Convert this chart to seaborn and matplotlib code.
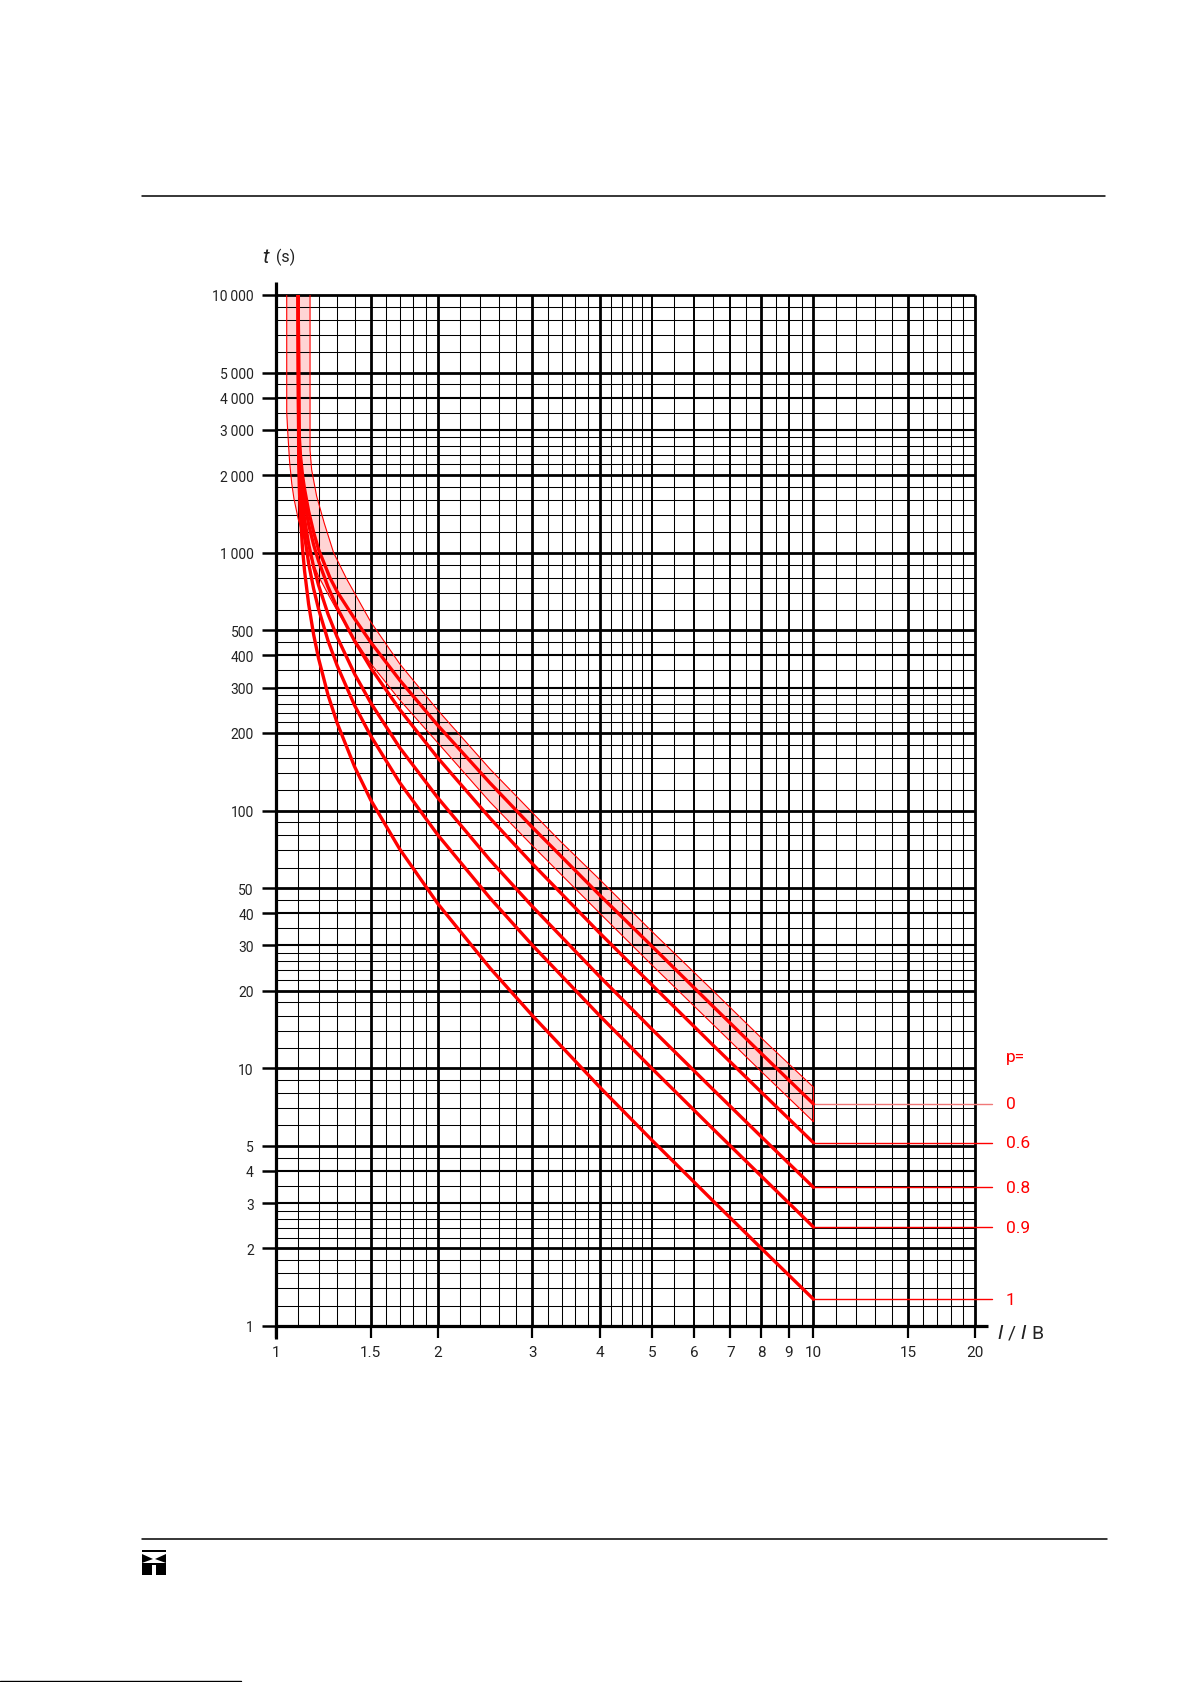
import matplotlib
matplotlib.use("Agg")
import matplotlib.pyplot as plt
import matplotlib.transforms as mtransforms
from matplotlib.patches import Rectangle, Polygon
from matplotlib.lines import Line2D
import pandas as pd
import seaborn as sns

# ---- curve data (I/IB, t in seconds) ----
X_P0 = [1.1, 1.102, 1.105, 1.11, 1.12, 1.13, 1.15, 1.175, 1.2, 1.26, 1.3, 1.4, 1.5, 1.7,
        2.0, 2.5, 3.0, 4.0, 5.0, 6.5, 8.0, 10.0]
T_P0 = [10000, 3372, 2824, 2412, 2005, 1769, 1450, 1200, 1030, 800, 705, 555, 450, 320,
        214, 128, 86, 47, 29.8, 17.4, 11.4, 7.27]

X_PRE = [1.1, 1.102, 1.105, 1.11, 1.12, 1.13, 1.15, 1.175, 1.2, 1.25, 1.3, 1.4, 1.5, 1.7,
         2.0, 2.5, 3.0, 4.0, 5.0, 6.5, 8.0, 10.0]
T_P06 = [10000, 3161, 2615, 2205, 1802, 1571, 1288, 1073, 928, 736, 611, 455, 358, 246,
         160, 93.5, 62.1, 33.5, 21.1, 12.3, 8.07, 5.14]
T_P08 = [10000, 2922, 2379, 1973, 1576, 1352, 1082, 881, 748, 577, 470, 339, 262, 175,
         112, 64.3, 42.4, 22.7, 14.2, 8.28, 5.42, 3.45]
T_P09 = [10000, 2712, 2171, 1770, 1382, 1166, 910, 724, 605, 455, 364, 256, 195, 128,
         80.4, 45.8, 30.0, 16.0, 10.0, 5.82, 3.81, 2.42]
T_P1 = [10000, 2331, 1799, 1411, 1047, 852, 632, 481, 389, 280, 218, 148, 110, 70.7,
        43.5, 24.5, 16.0, 8.46, 5.27, 3.06, 2.00, 1.27]

# tolerance band around p = 0
X_BAND_HI = [1.157, 1.157, 1.165, 1.19, 1.23, 1.28, 1.354, 1.5, 1.7, 2.0, 2.5, 3.0, 3.38,
             4.0, 5.0, 6.5, 8.0, 10.0]
T_BAND_HI = [10000, 2500, 2100, 1660, 1300, 1000, 790, 540, 370, 245, 145, 98, 76,
             54, 34, 20, 13.1, 8.44]
X_BAND_LO = [1.047, 1.047, 1.052, 1.06, 1.07, 1.08, 1.1, 1.12, 1.15, 1.2, 1.26, 1.3, 1.4,
             1.5, 1.7, 2.0, 2.5, 3.0, 4.0, 5.0, 6.5, 8.0, 10.0]
T_BAND_LO = [10000, 3500, 2900, 2250, 1850, 1620, 1350, 1180, 1000, 810, 670, 595, 462,
             372, 268, 183, 108, 73, 40, 25.2, 14.8, 9.7, 6.2]

P_LABELS = ["0", "0.6", "0.8", "0.9", "1"]

# ---- axis ticks / graph paper ----
X_TICKS = [1, 1.5, 2, 3, 4, 5, 6, 7, 8, 9, 10, 15, 20]
X_TICK_LABELS = ["1", "1.5", "2", "3", "4", "5", "6", "7", "8", "9", "10", "15", "20"]
Y_TICKS = [1, 2, 3, 4, 5, 10, 20, 30, 40, 50, 100, 200, 300, 400, 500,
           1000, 2000, 3000, 4000, 5000, 10000]
Y_TICK_LABELS = ["1", "2", "3", "4", "5", "10", "20", "30", "40", "50", "100", "200",
                 "300", "400", "500", "1\u2009000", "2\u2009000", "3\u2009000",
                 "4\u2009000", "5\u2009000", "10\u2009000"]

X_MAJOR = [1, 1.5, 2, 3, 4, 8, 10, 15, 20]
X_MEDIUM = [5, 6, 7, 9]
X_MINOR = ([1.1, 1.2, 1.3, 1.4, 1.6, 1.7, 1.8, 1.9]
           + [2.2, 2.4, 2.6, 2.8, 3.2, 3.4, 3.6, 3.8, 4.2, 4.4, 4.6, 4.8]
           + [5.5, 6.5, 7.5, 8.5, 9.5]
           + [11, 12, 13, 14, 16, 17, 18, 19])
DECADES = [1, 10, 100, 1000]
Y_MAJOR_M = [1, 2, 5]
Y_MEDIUM_M = [3, 4]
Y_MINOR_M = [1.2, 1.4, 1.6, 1.8, 2.2, 2.4, 2.6, 2.8, 3.5, 4.5, 6, 7, 8, 9]

W, H = 1191, 1683
RED = "#ff0000"

sns.set_theme(style="white")
plt.rcParams["font.family"] = ["Roboto", "DejaVu Sans"]

fig = plt.figure(figsize=(W / 100, H / 100), dpi=100)


def fx(x):
    return x / W


def fy(y):
    return 1 - y / H


ax = fig.add_axes([fx(276), fy(1327), (975.3 - 276) / W, (1327 - 296) / H])
ax.set_xscale("log")
ax.set_yscale("log")
ax.set_xlim(1, 20)
ax.set_ylim(1, 10000)
for s in ax.spines.values():
    s.set_visible(False)

# graph paper
y_major = [m * d for d in DECADES for m in Y_MAJOR_M] + [10000]
y_medium = [m * d for d in DECADES for m in Y_MEDIUM_M]
y_minor = [m * d for d in DECADES for m in Y_MINOR_M]
ax.hlines(y_minor, 1, 20, colors="black", lw=0.75, zorder=1, clip_on=False)
ax.hlines(y_medium, 1, 20, colors="black", lw=1.5, zorder=1, clip_on=False)
ax.hlines(y_major, 1, 20, colors="black", lw=2.0, zorder=1, clip_on=False)
ax.vlines(X_MINOR, 1, 10000, colors="black", lw=0.75, zorder=1, clip_on=False)
ax.vlines(X_MEDIUM, 1, 10000, colors="black", lw=1.4, zorder=1, clip_on=False)
ax.vlines(X_MAJOR, 1, 10000, colors="black", lw=2.0, zorder=1, clip_on=False)

# main axis lines, slightly overshooting
ax.plot([0, 0], [-0.013, 1.013], transform=ax.transAxes, color="black", lw=2.3,
        clip_on=False, zorder=6, solid_capstyle="butt")
ax.plot([0, 1.018], [0, 0], transform=ax.transAxes, color="black", lw=2.3,
        clip_on=False, zorder=6, solid_capstyle="butt")

# tolerance band
band_x = X_BAND_HI + X_BAND_LO[::-1]
band_y = T_BAND_HI + T_BAND_LO[::-1]
ax.fill(band_x, band_y, facecolor="#ffd4d4", edgecolor="none", zorder=0.5)
ax.plot(X_BAND_LO + X_BAND_HI[::-1], T_BAND_LO + T_BAND_HI[::-1], color=RED, lw=0.8,
        zorder=4)

# characteristic curves
curves = pd.concat([
    pd.DataFrame({"I": X_P0, "t": T_P0, "p": "0"}),
    pd.DataFrame({"I": X_PRE, "t": T_P06, "p": "0.6"}),
    pd.DataFrame({"I": X_PRE, "t": T_P08, "p": "0.8"}),
    pd.DataFrame({"I": X_PRE, "t": T_P09, "p": "0.9"}),
    pd.DataFrame({"I": X_PRE, "t": T_P1, "p": "1"}),
], ignore_index=True)
sns.lineplot(data=curves, x="I", y="t", units="p", estimator=None, sort=False,
             color=RED, lw=2.4, legend=False, ax=ax, zorder=5)

# end markers to the p labels
x_end_line = 21.45
ends = [T_P0[-1], T_P06[-1], T_P08[-1], T_P09[-1], T_P1[-1]]
for i, (lab, yv) in enumerate(zip(P_LABELS, ends)):
    col = "#f07878" if i == 0 else RED
    ax.plot([X_PRE[-1], x_end_line], [yv, yv], color=col, lw=1.0, clip_on=False, zorder=4)
blend = mtransforms.blended_transform_factory(fig.transFigure, ax.transData)
for lab, yv in zip(P_LABELS, ends):
    ax.text(fx(1006), yv, lab, transform=blend, color=RED, fontsize=12.5,
            va="center", ha="left", clip_on=False)
fig.text(fx(1006), fy(1058), "p=", color=RED, fontsize=12.5, va="center", ha="left")

# ticks and labels
ax.minorticks_off()
ax.set_xticks(X_TICKS)
ax.set_xticklabels(X_TICK_LABELS)
ax.set_yticks(Y_TICKS)
ax.set_yticklabels(Y_TICK_LABELS)
ax.tick_params(axis="y", which="major", left=True, direction="out", length=10,
               width=1.8, pad=6, labelsize=10, color="black", labelcolor="#222222")
ax.tick_params(axis="x", which="major", bottom=True, direction="out", length=8.6,
               width=1.6, pad=5, labelsize=11, color="black", labelcolor="#222222")
ax.set_xlabel("")
ax.set_ylabel("")

fig.text(fx(262), fy(263), "t", fontsize=15, style="italic", va="baseline", ha="left",
         color="#222222")
fig.text(fx(276), fy(262), "(s)", fontsize=11.5, va="baseline", ha="left", color="#222222")
fig.text(fx(997), fy(1338), r"$I$ / $I$ B", fontsize=14, va="baseline", ha="left",
         color="#222222")

# page furniture
fig.add_artist(Line2D([fx(142), fx(1105)], [fy(197), fy(197)], color="black", lw=1.1))
fig.add_artist(Line2D([fx(142), fx(1107)], [fy(1540), fy(1540)], color="black", lw=1.1))
fig.add_artist(Line2D([fx(0), fx(241)], [fy(1682), fy(1682)], color="black", lw=1.0))

# small logo
def rect(x0, y0, x1, y1):
    fig.add_artist(Rectangle((fx(x0), fy(y1)), (x1 - x0) / W, (y1 - y0) / H,
                             facecolor="black", edgecolor="none"))


def tri(pts):
    fig.add_artist(Polygon([(fx(a), fy(b)) for a, b in pts], closed=True,
                           facecolor="black", edgecolor="none"))


rect(142, 1551, 166, 1553)
tri([(142, 1555), (142, 1564), (153, 1560)])
tri([(166, 1555), (166, 1564), (155, 1560)])
rect(142, 1566, 152, 1576)
rect(156, 1566, 166, 1576)
rect(142, 1564, 166, 1566)

fig.savefig("out.png", dpi=100)
